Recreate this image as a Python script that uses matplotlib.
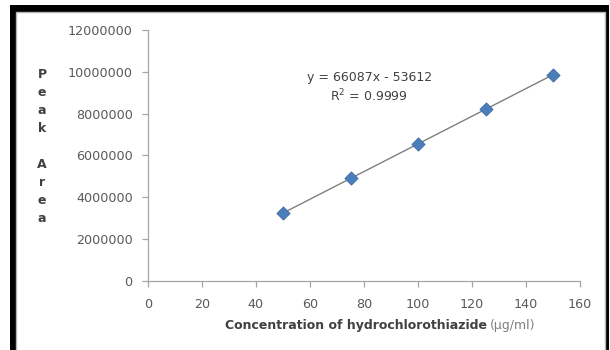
"""Calibration curve of hydrochlorothiazide (peak area vs concentration)."""
import matplotlib.pyplot as plt
import numpy as np
from matplotlib.patches import Rectangle

concentration = [50, 75, 100, 125, 150]
peak_area = [3245000, 4905000, 6560000, 8205000, 9860000]
equation_text = "y = 66087x - 53612\nR$^2$ = 0.9999"
x_ticks = [0, 20, 40, 60, 80, 100, 120, 140, 160]
y_ticks = [0, 2000000, 4000000, 6000000, 8000000, 10000000, 12000000]

W, H = 610, 350
fig = plt.figure(figsize=(W / 100, H / 100), dpi=100)
fig.patch.set_facecolor("white")

# black frame (top, left, right) and the inner chart panel
fig.patches.append(Rectangle((10 / W, 0), 599 / W, 345 / H, transform=fig.transFigure,
                             facecolor="black", edgecolor="none", zorder=-2))
fig.patches.append(Rectangle((16 / W, -0.01), 589 / W, 338.5 / H + 0.01, transform=fig.transFigure,
                             facecolor="white", edgecolor="#b4b4b4", lw=1, zorder=-1))

ax = fig.add_axes([148 / W, 1 - 281 / H, 432 / W, 251 / H])
ax.set_facecolor("none")
ax.set_zorder(2)

x = np.array(concentration)
y = np.array(peak_area)
slope, intercept = np.polyfit(x, y, 1)
xl = np.array([x.min(), x.max()])
ax.plot(xl, slope * xl + intercept, color="#7f7f7f", lw=1, zorder=2)
ax.scatter(x, y, marker="D", s=45, color="#4a7ebb", edgecolor="#3d6aa3", lw=0.6, zorder=3)

ax.set_xlim(0, 160)
ax.set_ylim(0, 12000000)
ax.set_xticks(x_ticks)
ax.set_yticks(y_ticks)
ax.set_yticklabels([str(v) for v in y_ticks])

for s in ["top", "right"]:
    ax.spines[s].set_visible(False)
for s in ["left", "bottom"]:
    ax.spines[s].set_color("#a6a6a6")
    ax.spines[s].set_linewidth(0.9)
ax.tick_params(colors="#a6a6a6", length=4, width=0.9, labelcolor="#595959",
               labelsize=9.2)
ax.tick_params(axis="y", pad=7)
ax.tick_params(axis="x", pad=8)

ax.text(82, 9250000, equation_text, ha="center", va="center", fontsize=9,
        color="#404040", linespacing=1.3)

fig.text(42 / W, 1 - 146 / H, "P\ne\na\nk\n\nA\nr\ne\na", ha="center", va="center",
         fontsize=9, fontweight="bold", color="#404040", linespacing=1.5)

fig.text(487 / W, 1 - 326 / H, "Concentration of hydrochlorothiazide", ha="right",
         va="center", fontsize=9, fontweight="bold", color="#404040")
fig.text(490 / W, 1 - 326 / H, "(\u00b5g/ml)", ha="left", va="center",
         fontsize=9, color="#7f7f7f")

fig.savefig("out.png", dpi=100)
